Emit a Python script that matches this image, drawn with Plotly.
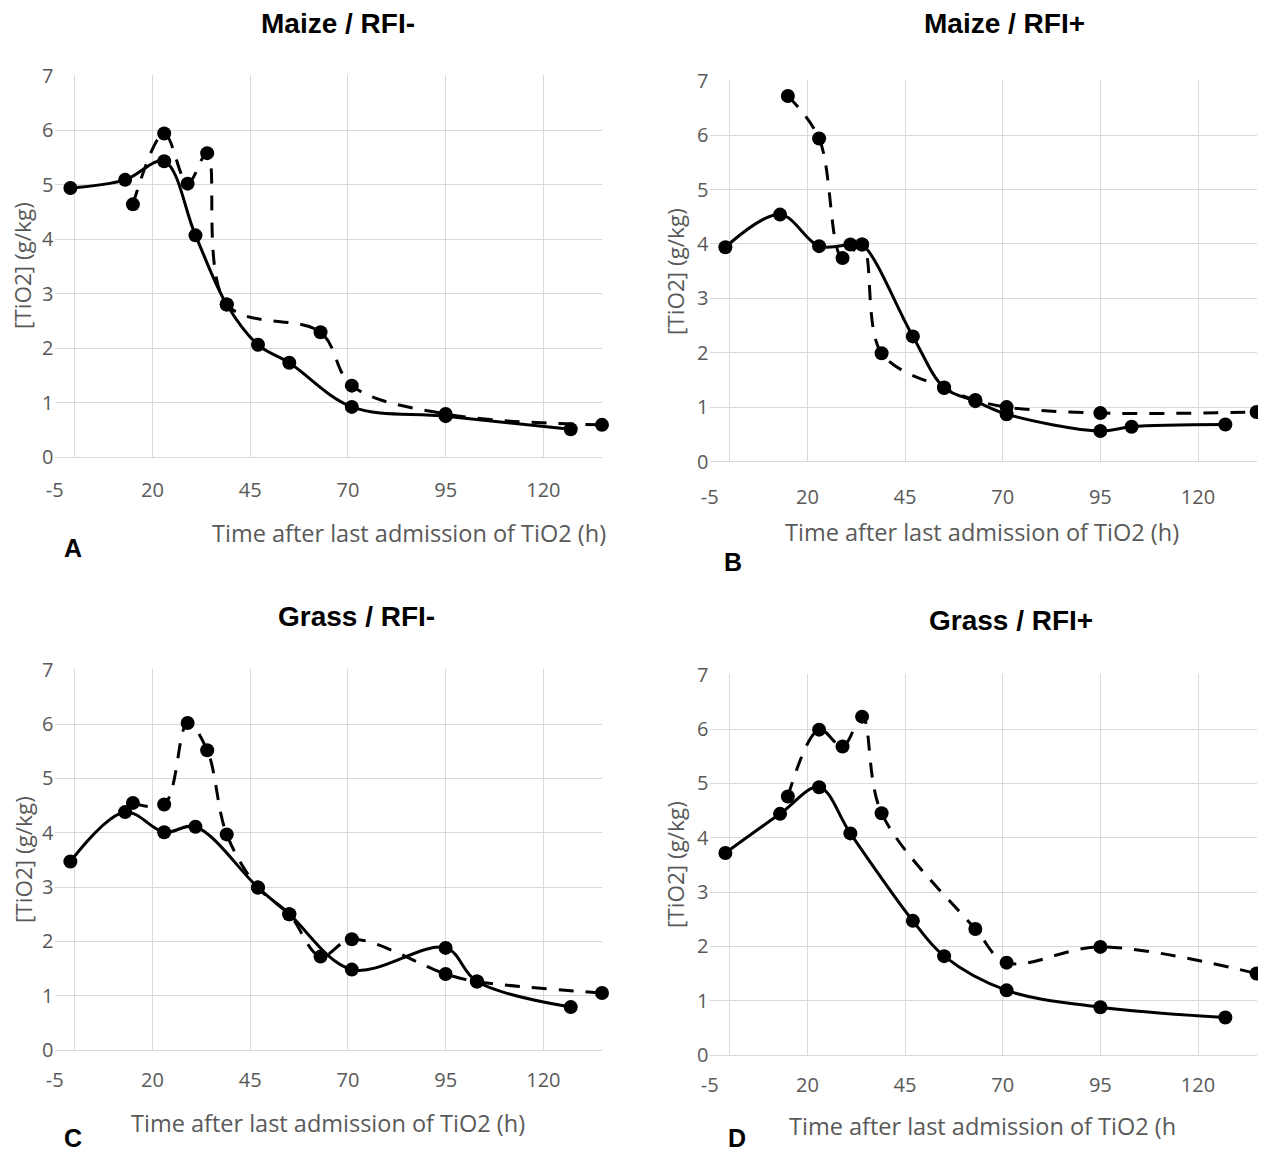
import plotly.graph_objects as go

# ---------------- data ----------------
# Panel A: Maize / RFI-
a_solid_x = [-1, 13, 23, 31, 39, 47, 55, 71, 95, 127]
a_solid_y = [4.94, 5.09, 5.43, 4.07, 2.80, 2.06, 1.73, 0.92, 0.75, 0.51]
a_dash_x = [15, 23, 29, 34, 39, 63, 71, 95, 135]
a_dash_y = [4.64, 5.94, 5.02, 5.58, 2.80, 2.29, 1.31, 0.79, 0.59]

# Panel B: Maize / RFI+
b_solid_x = [-1, 13, 23, 31, 34, 47, 55, 63, 71, 95, 103, 127]
b_solid_y = [3.94, 4.54, 3.96, 3.99, 3.99, 2.30, 1.36, 1.11, 0.87, 0.56, 0.64, 0.68]
b_dash_x = [15, 23, 29, 34, 39, 55, 63, 71, 95, 135]
b_dash_y = [6.72, 5.94, 3.74, 3.99, 1.99, 1.35, 1.13, 1.00, 0.89, 0.91]

# Panel C: Grass / RFI-
c_solid_x = [-1, 13, 23, 31, 47, 55, 71, 95, 103, 127]
c_solid_y = [3.47, 4.38, 4.01, 4.11, 2.99, 2.50, 1.48, 1.88, 1.26, 0.79]
c_dash_x = [15, 23, 29, 34, 39, 47, 55, 63, 71, 95, 103, 135]
c_dash_y = [4.55, 4.52, 6.02, 5.52, 3.97, 2.99, 2.50, 1.72, 2.04, 1.40, 1.26, 1.05]

# Panel D: Grass / RFI+
d_solid_x = [-1, 13, 23, 31, 47, 55, 71, 95, 127]
d_solid_y = [3.72, 4.44, 4.93, 4.08, 2.47, 1.82, 1.19, 0.88, 0.69]
d_dash_x = [15, 23, 29, 34, 39, 63, 71, 95, 135]
d_dash_y = [4.76, 5.99, 5.68, 6.23, 4.45, 2.32, 1.70, 1.99, 1.50]

titles = ["Maize / RFI-", "Maize / RFI+", "Grass / RFI-", "Grass / RFI+"]
letters = ["A", "B", "C", "D"]
x_titles = ["Time after last admission of TiO2 (h)", "Time after last admission of TiO2 (h)",
            "Time after last admission of TiO2 (h)", "Time after last admission of TiO2 (h"]
y_title = "[TiO2] (g/kg)"
x_tickvals = [-5, 20, 45, 70, 95, 120]
x_ticktext = ["-5", "20", "45", "70", "95", "120"]
y_tickvals = [0, 1, 2, 3, 4, 5, 6, 7]

# ---------------- layout helpers ----------------
# the page places the figure 8px from the top-left corner of the window
OFF = 8
WIN_W, WIN_H = 1266, 1153
W, H = WIN_W - OFF, WIN_H - OFF
def px_x(p): return (p - OFF) / W
def px_y(p): return 1 - (p - OFF) / H

# plot areas in window pixels: (left, right, top, bottom)
areas = [(54.5, 602, 75, 457), (709.5, 1256.6, 80, 461.5),
         (54.5, 602, 669, 1050), (709.5, 1256.6, 674, 1055)]
x_ticklen = [15, 17, 12, 12]
title_pos = [(338, 23), (1004, 23), (357, 616), (1011, 620)]
xtitle_pos = [(409, 533), (982, 532), (328, 1123), (982, 1126)]
ytitle_pos = [(23, 266), (675, 271), (23, 860), (675, 864)]
letter_pos = [(73, 548), (733, 562), (73, 1138), (737, 1138)]

GRID = "#d9d9d9"
TXT = "#595959"
FONT = "Open Sans"

fig = go.Figure()
series = [(a_solid_x, a_solid_y, a_dash_x, a_dash_y),
          (b_solid_x, b_solid_y, b_dash_x, b_dash_y),
          (c_solid_x, c_solid_y, c_dash_x, c_dash_y),
          (d_solid_x, d_solid_y, d_dash_x, d_dash_y)]

for i, (sx, sy, dx, dy) in enumerate(series):
    suffix = "" if i == 0 else str(i + 1)
    xa, ya = "x" + suffix, "y" + suffix
    fig.add_trace(go.Scatter(x=sx, y=sy, xaxis=xa, yaxis=ya, mode="lines+markers",
                             line=dict(color="black", width=3, shape="spline", smoothing=1),
                             marker=dict(color="black", size=14), cliponaxis=False,
                             showlegend=False))
    fig.add_trace(go.Scatter(x=dx, y=dy, xaxis=xa, yaxis=ya, mode="lines+markers",
                             line=dict(color="black", width=3, shape="spline", smoothing=1,
                                       dash="15px,12px"),
                             marker=dict(color="black", size=14), cliponaxis=False,
                             showlegend=False))
    l, r, t, b = areas[i]
    fig.layout["xaxis" + suffix] = dict(
        domain=[px_x(l), px_x(r)], range=[-5.06, 135], anchor=ya, automargin=False,
        tickmode="array", tickvals=x_tickvals, ticktext=x_ticktext,
        showgrid=True, gridcolor=GRID, gridwidth=1.3,
        zeroline=True, zerolinecolor=GRID, zerolinewidth=1.3, showline=False,
        ticks="outside", ticklen=x_ticklen[i], tickcolor="rgba(0,0,0,0)",
        tickfont=dict(family=FONT, size=20, color=TXT), fixedrange=True)
    fig.layout["yaxis" + suffix] = dict(
        domain=[px_y(b), px_y(t)], range=[0, 7.015], anchor=xa, automargin=False,
        tickmode="array", tickvals=y_tickvals, showgrid=True, gridcolor=GRID, gridwidth=1.3,
        zeroline=True, zerolinecolor=GRID, zerolinewidth=1.3, showline=False,
        ticks="",
        tickfont=dict(family=FONT, size=20, color=TXT), fixedrange=True)

    fig.add_annotation(text="<b>%s</b>" % titles[i], x=px_x(title_pos[i][0]), y=px_y(title_pos[i][1]),
                       xref="paper", yref="paper", showarrow=False, xanchor="center", yanchor="middle",
                       font=dict(family="Liberation Sans", size=28, color="black"))
    fig.add_annotation(text=x_titles[i], x=px_x(xtitle_pos[i][0]), y=px_y(xtitle_pos[i][1]),
                       xref="paper", yref="paper", showarrow=False, xanchor="center", yanchor="middle",
                       font=dict(family=FONT, size=23.5, color=TXT))
    fig.add_annotation(text=y_title, x=px_x(ytitle_pos[i][0]), y=px_y(ytitle_pos[i][1]),
                       xref="paper", yref="paper", showarrow=False, xanchor="center", yanchor="middle",
                       textangle=-90, font=dict(family=FONT, size=22.5, color=TXT))
    fig.add_annotation(text="<b>%s</b>" % letters[i], x=px_x(letter_pos[i][0]), y=px_y(letter_pos[i][1]),
                       xref="paper", yref="paper", showarrow=False, xanchor="center", yanchor="middle",
                       font=dict(family="Liberation Sans", size=25, color="black"))

fig.update_layout(width=W, height=H, margin=dict(l=0, r=0, t=0, b=0, autoexpand=False),
                  paper_bgcolor="white", plot_bgcolor="white", showlegend=False)

fig.write_html("out.html")
